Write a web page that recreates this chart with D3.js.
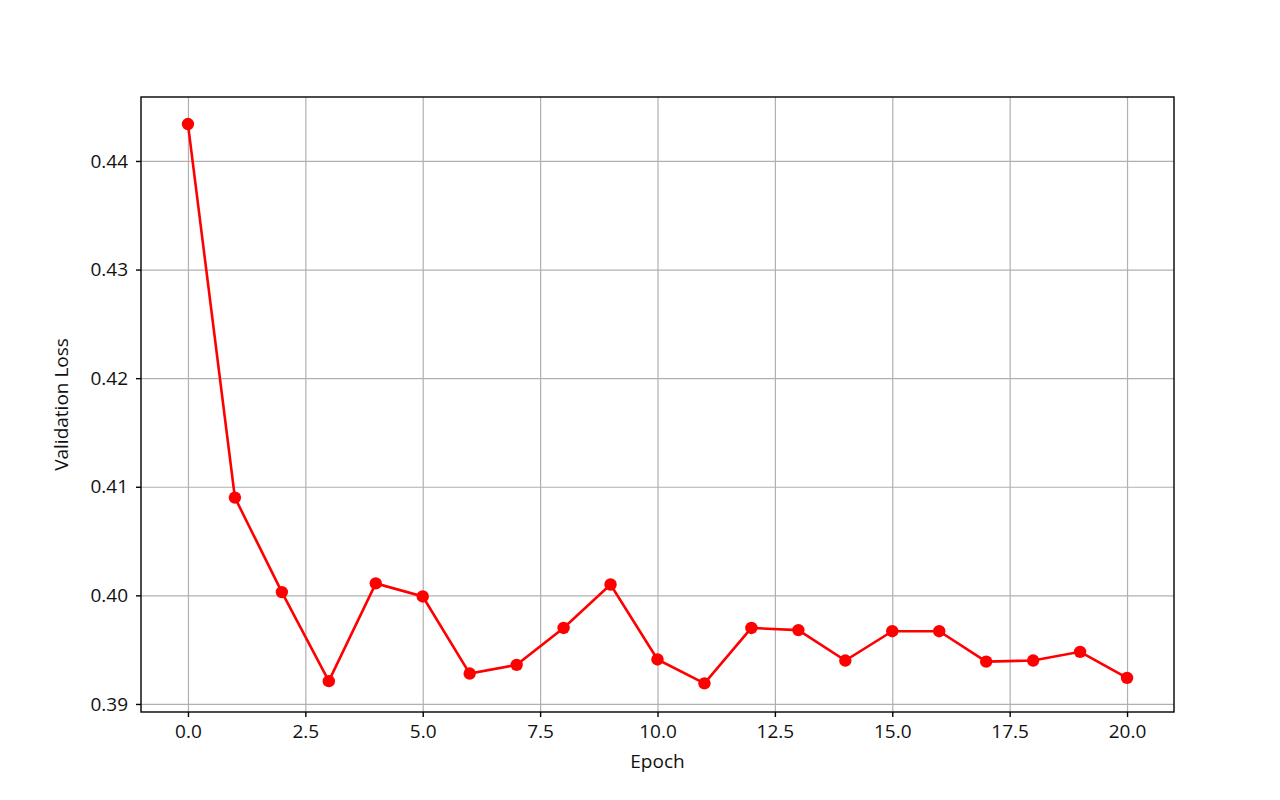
<!DOCTYPE html>
<html>
<head>
<meta charset="utf-8">
<script src="https://cdn.jsdelivr.net/npm/d3@7"></script>
<style>
body { margin: 0; background: #fff; }
svg text { font-family: "Open Sans", sans-serif; fill: #111; }
.grid line { stroke: #b0b0b0; stroke-width: 1.2; }
.grid path { display: none; }
</style>
</head>
<body>
<svg width="1280" height="800"></svg>
<script>
var epochs = [0, 1, 2, 3, 4, 5, 6, 7, 8, 9, 10, 11, 12, 13, 14, 15, 16, 17, 18, 19, 20];
var valLoss = [0.4434, 0.4090, 0.4003, 0.3921, 0.4011, 0.3999, 0.3928, 0.3936, 0.3970, 0.4010,
               0.3941, 0.3919, 0.3970, 0.3968, 0.3940, 0.3967, 0.3967, 0.3939, 0.3940, 0.3948, 0.3924];
var xTicks = [0, 2.5, 5, 7.5, 10, 12.5, 15, 17.5, 20];
var yTicks = [0.39, 0.40, 0.41, 0.42, 0.43, 0.44];

var svg = d3.select("svg");

var plotL = 141, plotR = 1174, plotT = 97, plotB = 712;

var x = d3.scaleLinear().domain([-1, 21]).range([plotL, plotR]);
var y = d3.scaleLinear().domain([0.38926, 0.44589]).range([plotB, plotT]);

// grid
svg.append("g")
.attr("class", "grid")
.attr("transform", "translate(0," + plotB + ")")
.call(d3.axisBottom(x).tickValues(xTicks).tickFormat("").tickSize(-(plotB - plotT)));

svg.append("g")
.attr("class", "grid")
.attr("transform", "translate(" + plotL + ",0)")
.call(d3.axisLeft(y).tickValues(yTicks).tickFormat("").tickSize(-(plotR - plotL)));

// line + markers
var line = d3.line()
.x(function (d, i) { return x(epochs[i]); })
.y(function (d) { return y(d); });

svg.append("path")
.datum(valLoss)
.attr("d", line)
.attr("fill", "none")
.attr("stroke", "#ff0000")
.attr("stroke-width", 2.6);

svg.selectAll("circle.pt")
.data(valLoss)
.enter().append("circle")
.attr("class", "pt")
.attr("cx", function (d, i) { return x(epochs[i]); })
.attr("cy", function (d) { return y(d); })
.attr("r", 6.2)
.attr("fill", "#ff0000");

// frame
svg.append("rect")
.attr("x", plotL).attr("y", plotT)
.attr("width", plotR - plotL).attr("height", plotB - plotT)
.attr("fill", "none").attr("stroke", "#000").attr("stroke-width", 1.4);

// axes
var xAxis = svg.append("g")
.attr("transform", "translate(0," + plotB + ")")
.call(d3.axisBottom(x).tickValues(xTicks).tickFormat(d3.format(".1f")).tickSize(5).tickPadding(8));

var yAxis = svg.append("g")
.attr("transform", "translate(" + plotL + ",0)")
.call(d3.axisLeft(y).tickValues(yTicks).tickFormat(d3.format(".2f")).tickSize(5).tickPadding(8));

[xAxis, yAxis].forEach(function (g) {
	g.select(".domain").remove();
	g.selectAll("line").attr("stroke", "#000").attr("stroke-width", 1.4);
	g.selectAll("text").attr("font-size", "19px").attr("font-family", "Open Sans, sans-serif").attr("fill", "#000");
});

svg.append("text")
.text("Epoch")
.attr("x", (plotL + plotR) / 2)
.attr("y", 768)
.attr("text-anchor", "middle")
.attr("font-size", "19px");

svg.append("text")
.text("Validation Loss")
.attr("transform", "translate(68," + (plotT + plotB) / 2 + ") rotate(-90)")
.attr("text-anchor", "middle")
.attr("font-size", "19px");
</script>
</body>
</html>
